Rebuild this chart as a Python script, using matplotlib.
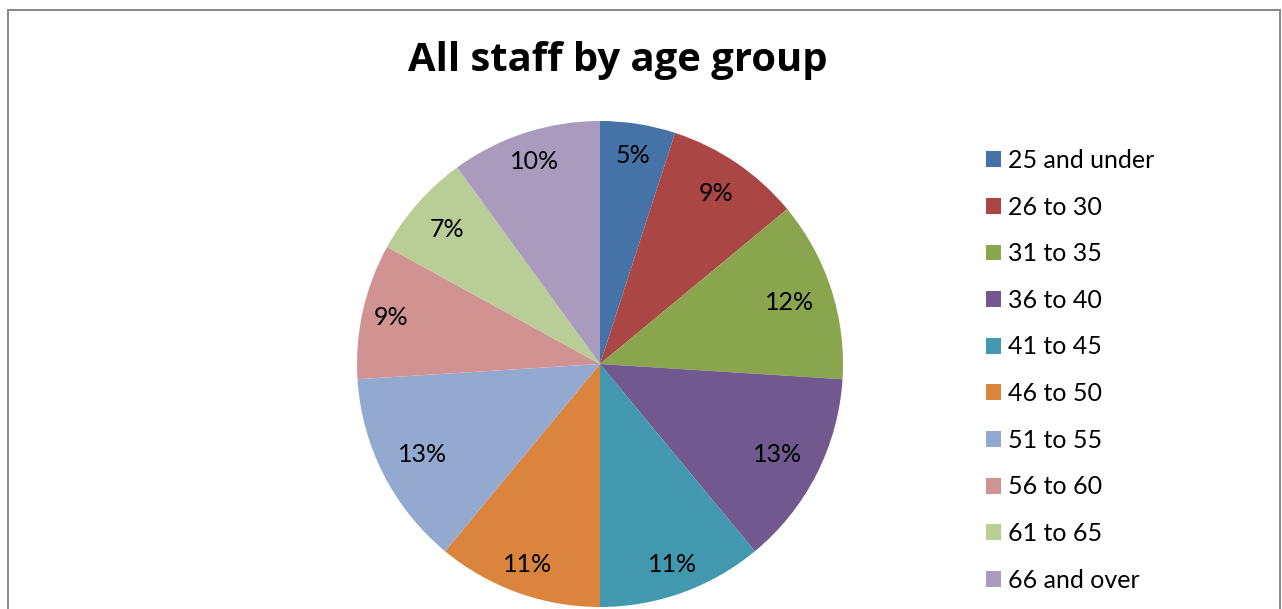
import numpy as np
import matplotlib
matplotlib.use("Agg")
import matplotlib.pyplot as plt
from matplotlib.patches import Rectangle

# Staff share per age band (percent)
categories = ["25 and under", "26 to 30", "31 to 35", "36 to 40", "41 to 45",
              "46 to 50", "51 to 55", "56 to 60", "61 to 65", "66 and over"]
shares = [5, 9, 12, 13, 11, 11, 13, 9, 7, 10]
colors = ["#4572A7", "#AA4643", "#89A54E", "#71588F", "#4198AF",
          "#DB843D", "#93A9CF", "#D19392", "#B9CD96", "#A99BBD"]
title = "All staff by age group"

# Radial placement of each percentage label (fraction of the radius)
label_radius = [0.87, 0.85, 0.82, 0.82, 0.875, 0.875, 0.82, 0.88, 0.84, 0.875]

plt.rcParams["font.family"] = ["Lato", "DejaVu Sans"]

W, H = 1282, 609
DPI = 100
fig = plt.figure(figsize=(W / DPI, H / DPI), dpi=DPI)
fig.patch.set_facecolor("white")

PX = 0.72  # points per pixel at 100 dpi

# Pie axes: centre (600, 364) px from top-left, radius 243 px
cx, cy, r = 600, 364, 243
ax = fig.add_axes([(cx - r) / W, (H - cy - r) / H, 2 * r / W, 2 * r / H])

wedges, _, autotexts = ax.pie(
    shares, colors=colors, startangle=90, counterclock=False, radius=1,
    autopct=lambda p: f"{p:.0f}%", pctdistance=0.85,
    wedgeprops=dict(linewidth=0),
    textprops=dict(fontsize=25 * PX, color="black"),
)
# Move each label along its wedge's bisector
for w, t, lr in zip(wedges, autotexts, label_radius):
    mid = np.deg2rad((w.theta1 + w.theta2) / 2)
    t.set_position((lr * np.cos(mid), lr * np.sin(mid)))

ax.set_xlim(-1, 1)
ax.set_ylim(-1, 1)
ax.set_aspect("equal")
ax.axis("off")

# Title
fig.text(618 / W, 1 - 60 / H, title, ha="center", va="center",
         fontsize=40 * PX, fontweight="bold", color="black",
         family=["Open Sans", "DejaVu Sans"])

# Legend
leg = fig.legend(
    wedges, categories, loc="upper left",
    bbox_to_anchor=(986 / W, 1 - 149 / H), frameon=False,
    fontsize=25 * PX, handlelength=0.6, handleheight=0.6,
    handletextpad=0.28, labelspacing=0.945, borderpad=0, borderaxespad=0,
)

# Chart-area border
fig.add_artist(Rectangle((7.5 / W, -0.05), (1280 - 7.5) / W, 1 - 9.5 / H + 0.05,
                         transform=fig.transFigure, fill=False,
                         edgecolor="#898989", linewidth=2 * PX))

fig.savefig("out.png", dpi=DPI, facecolor="white")
